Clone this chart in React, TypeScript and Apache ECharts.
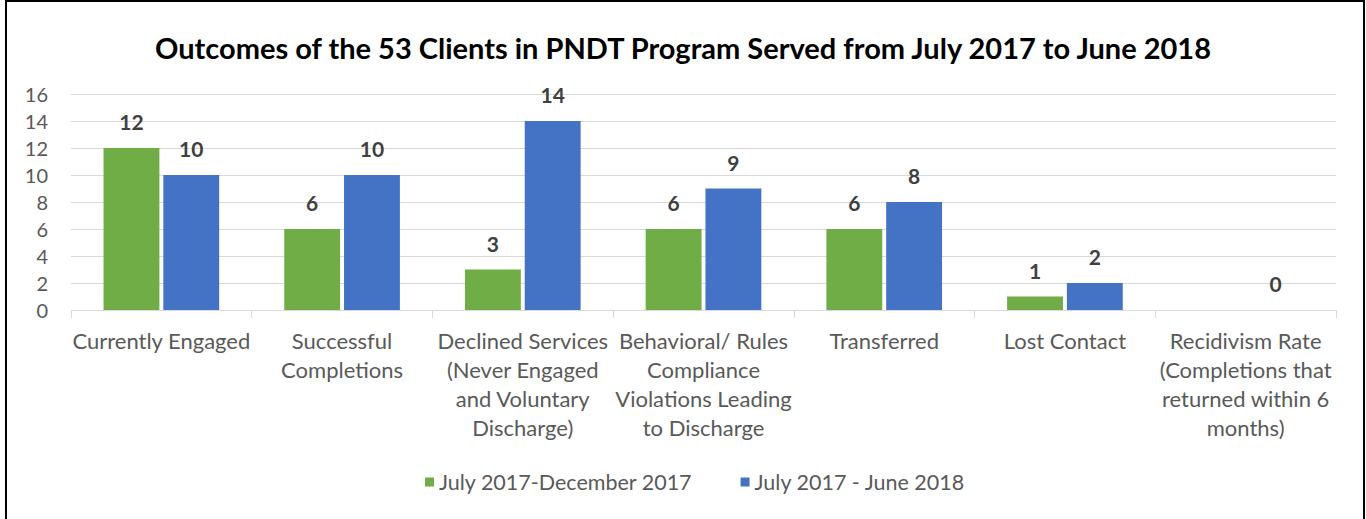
import React, { useEffect, useRef } from "react";
import * as echarts from "echarts";

const TITLE = "Outcomes of the 53 Clients in PNDT Program Served from July 2017 to June 2018";
const categories = [
  "Currently Engaged",
  "Successful\nCompletions",
  "Declined Services\n(Never Engaged\nand Voluntary\nDischarge)",
  "Behavioral/ Rules\nCompliance\nViolations Leading\nto Discharge",
  "Transferred",
  "Lost Contact",
  "Recidivism Rate\n(Completions that\nreturned within 6\nmonths)",
];
const seriesNames = ["July 2017-December 2017", "July 2017 - June 2018"];
const firstHalf: (number | null)[] = [12, 6, 3, 6, 6, 1, null];
const fullYear: (number | null)[] = [10, 10, 14, 9, 8, 2, 0];
const yTicks = { min: 0, max: 16, interval: 2 };

const FONT = "Lato";

export default function App() {
  const ref = useRef<HTMLDivElement>(null);
  useEffect(() => {
    if (!ref.current) return;
    const chart = echarts.init(ref.current, null, { renderer: "svg" });
    const label = {
      show: true,
      position: "top" as const,
      distance: 16,
      fontFamily: FONT,
      fontWeight: "bold" as const,
      fontSize: 21,
      color: "#404040",
    };
    chart.setOption({
      animation: false,
      backgroundColor: "#ffffff",
      textStyle: { fontFamily: FONT },
      title: {
        text: TITLE,
        left: "center",
        top: 28,
        textStyle: { fontFamily: FONT, fontWeight: "bold", fontSize: 29, color: "#000000" },
      },
      graphic: [
        {
          type: "rect",
          shape: { x: 6, y: 1, width: 1358, height: 560 },
          style: { fill: "none", stroke: "#000000", lineWidth: 2 },
          silent: true,
        },
      ],
      legend: {
        top: 466,
        left: 420,
        itemWidth: 9,
        itemHeight: 9,
        itemGap: 48,
        icon: "rect",
        textStyle: { fontFamily: FONT, fontSize: 21.5, color: "#595959" },
        data: seriesNames,
      },
      grid: { left: 71, right: 30, top: 94, height: 216, containLabel: false },
      xAxis: {
        type: "category",
        data: categories,
        axisLine: { lineStyle: { color: "#d9d9d9", width: 1 } },
        axisTick: { show: true, length: 8, lineStyle: { color: "#d9d9d9" } },
        axisLabel: {
          interval: 0,
          margin: 16,
          fontFamily: FONT,
          fontSize: 22,
          lineHeight: 29,
          color: "#595959",
        },
      },
      yAxis: {
        type: "value",
        min: yTicks.min,
        max: yTicks.max,
        interval: yTicks.interval,
        axisLine: { show: false },
        axisTick: { show: false },
        splitLine: { lineStyle: { color: "#d9d9d9", width: 1 } },
        axisLabel: { margin: 23, fontFamily: FONT, fontSize: 20, color: "#595959" },
      },
      series: [
        {
          name: seriesNames[0],
          type: "bar",
          data: firstHalf,
          itemStyle: { color: "#70ad47" },
          barGap: "7%",
          barCategoryGap: "36%",
          label,
        },
        {
          name: seriesNames[1],
          type: "bar",
          data: fullYear,
          itemStyle: { color: "#4472c4" },
          barGap: "7%",
          barCategoryGap: "36%",
          label,
        },
      ],
    });
    return () => chart.dispose();
  }, []);
  return (
    <div
      ref={ref}
      style={{ position: "fixed", left: 0, top: 0, width: 1366, height: 519 }}
    />
  );
}
